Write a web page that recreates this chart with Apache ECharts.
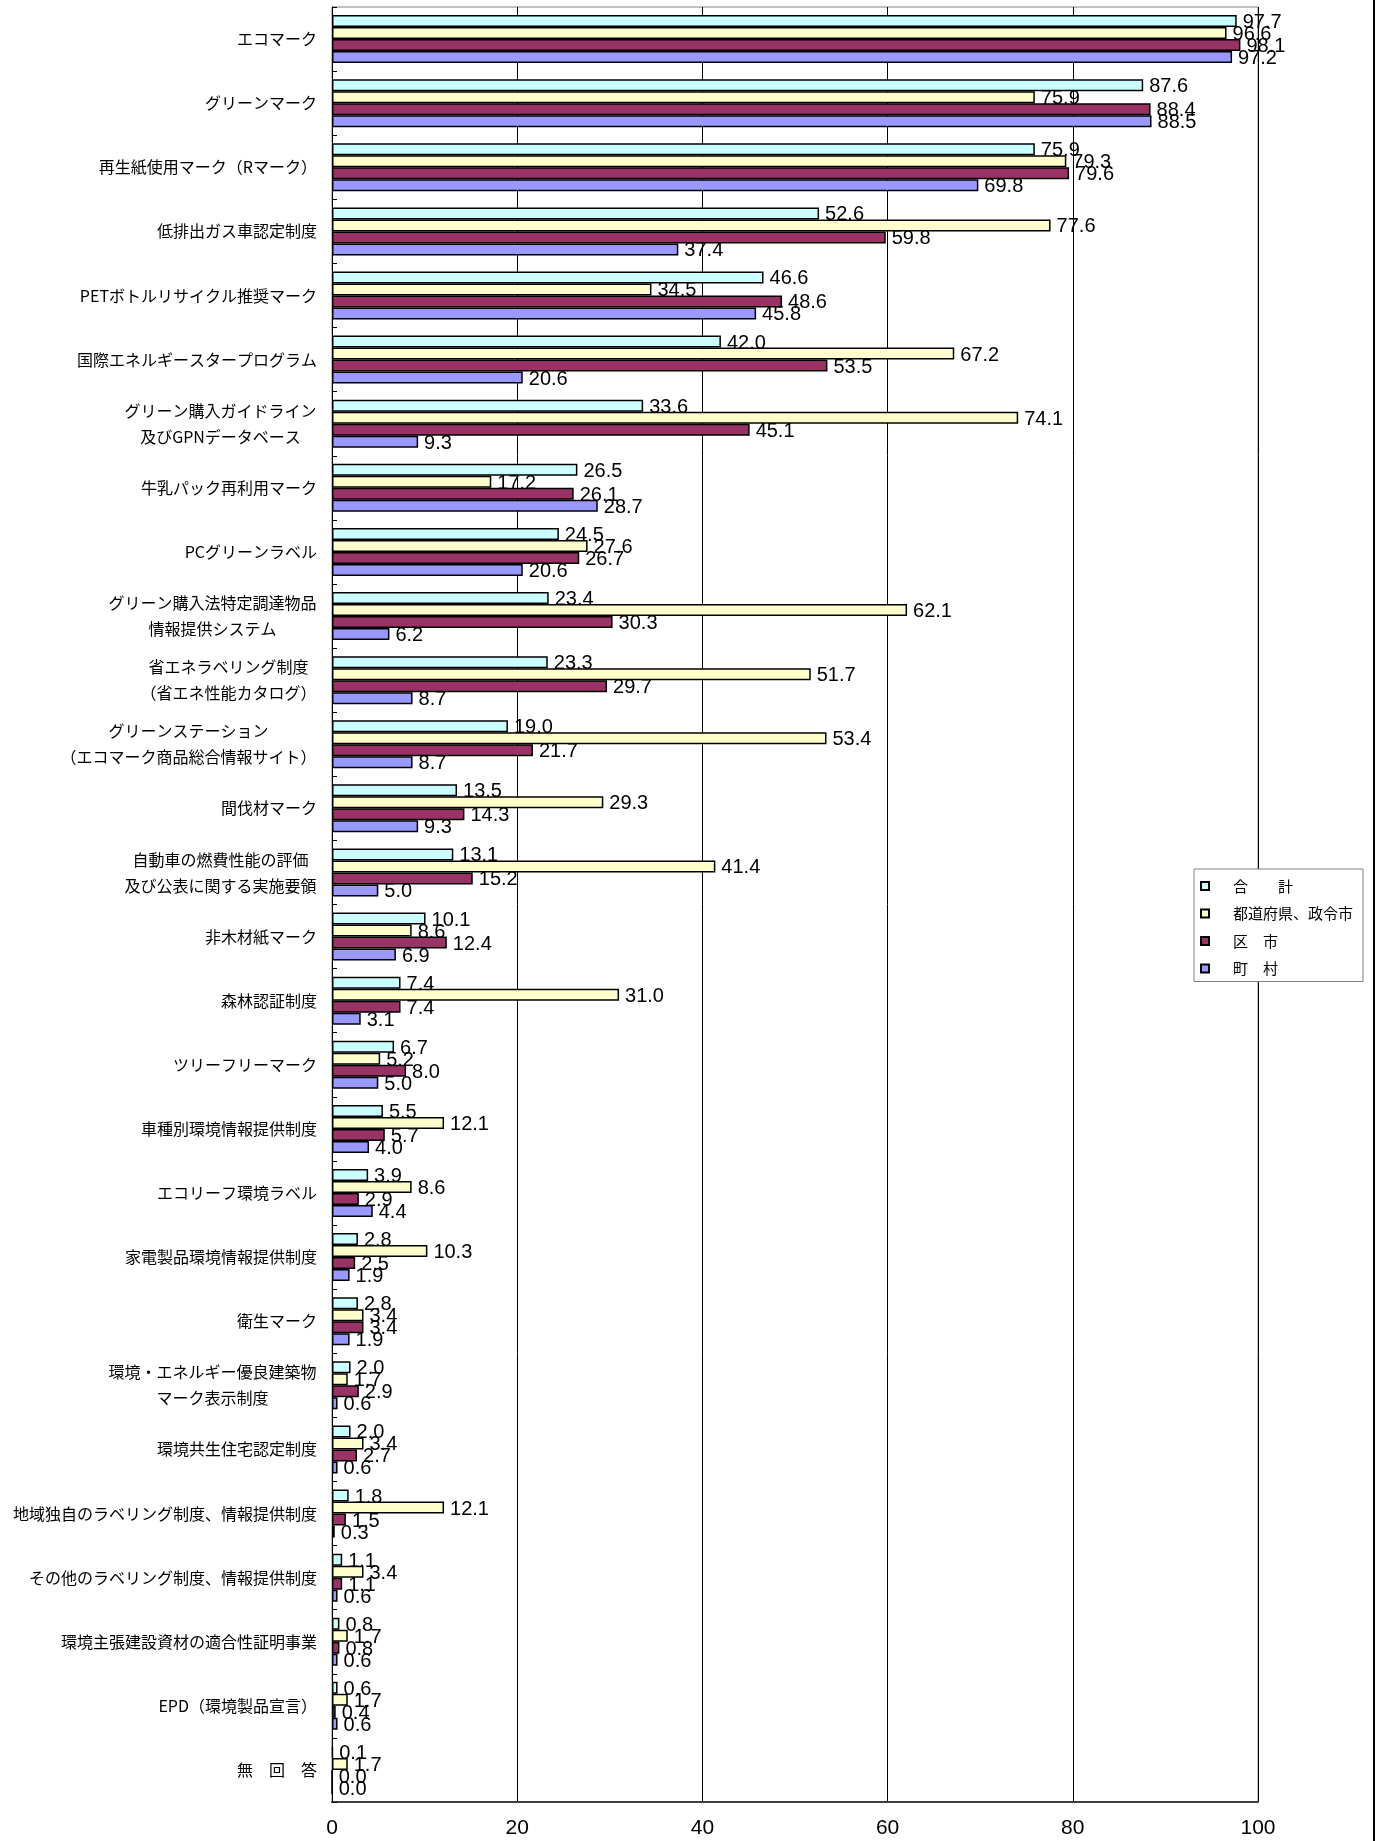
<!DOCTYPE html>
<html>
<head>
<meta charset="utf-8">
<script src="https://cdn.jsdelivr.net/npm/echarts@6/dist/echarts.min.js"></script>
<style>
html,body{margin:0;padding:0;background:#fff;}
#chart{width:1379px;height:1841px;}
</style>
</head>
<body>
<div id="chart"></div>
<script>
const categories = [
  'エコマーク',
  'グリーンマーク',
  '再生紙使用マーク（Rマーク）',
  '低排出ガス車認定制度',
  'PETボトルリサイクル推奨マーク',
  '国際エネルギースタープログラム',
  'グリーン購入ガイドライン\n及びGPNデータベース',
  '牛乳パック再利用マーク',
  'PCグリーンラベル',
  'グリーン購入法特定調達物品\n情報提供システム',
  '省エネラベリング制度\n（省エネ性能カタログ）',
  'グリーンステーション\n（エコマーク商品総合情報サイト）',
  '間伐材マーク',
  '自動車の燃費性能の評価\n及び公表に関する実施要領',
  '非木材紙マーク',
  '森林認証制度',
  'ツリーフリーマーク',
  '車種別環境情報提供制度',
  'エコリーフ環境ラベル',
  '家電製品環境情報提供制度',
  '衛生マーク',
  '環境・エネルギー優良建築物\nマーク表示制度',
  '環境共生住宅認定制度',
  '地域独自のラベリング制度、情報提供制度',
  'その他のラベリング制度、情報提供制度',
  '環境主張建設資材の適合性証明事業',
  'EPD（環境製品宣言）',
  '無　回　答'
];

const seriesNames = ['合　　計', '都道府県、政令市', '区　市', '町　村'];

const totalValues = [97.7, 87.6, 75.9, 52.6, 46.6, 42.0, 33.6, 26.5, 24.5, 23.4, 23.3, 19.0, 13.5, 13.1, 10.1, 7.4, 6.7, 5.5, 3.9, 2.8, 2.8, 2.0, 2.0, 1.8, 1.1, 0.8, 0.6, 0.1];
const prefValues  = [96.6, 75.9, 79.3, 77.6, 34.5, 67.2, 74.1, 17.2, 27.6, 62.1, 51.7, 53.4, 29.3, 41.4, 8.6, 31.0, 5.2, 12.1, 8.6, 10.3, 3.4, 1.7, 3.4, 12.1, 3.4, 1.7, 1.7, 1.7];
const cityValues  = [98.1, 88.4, 79.6, 59.8, 48.6, 53.5, 45.1, 26.1, 26.7, 30.3, 29.7, 21.7, 14.3, 15.2, 12.4, 7.4, 8.0, 5.7, 2.9, 2.5, 3.4, 2.9, 2.7, 1.5, 1.1, 0.8, 0.4, 0.0];
const townValues  = [97.2, 88.5, 69.8, 37.4, 45.8, 20.6, 9.3, 28.7, 20.6, 6.2, 8.7, 8.7, 9.3, 5.0, 6.9, 3.1, 5.0, 4.0, 4.4, 1.9, 1.9, 0.6, 0.6, 0.3, 0.6, 0.6, 0.6, 0.0];

const xTicks = [0, 20, 40, 60, 80, 100];

const seriesValues = [totalValues, prefValues, cityValues, townValues];
const seriesColors = ['#CCFFFF', '#FFFFCC', '#993366', '#9999FF'];

const CJK = '"Noto Sans CJK JP", "Noto Sans", sans-serif';
const NUM = '"Liberation Sans", Arial, sans-serif';

// measure multi-line labels so that lines are centered within a right-anchored block
const cv = document.createElement('canvas').getContext('2d');
cv.font = '16px ' + CJK;
const rich = {};
categories.forEach(function (c, i) {
  if (c.indexOf('\n') >= 0) {
    const w = Math.max.apply(null, c.split('\n').map(function (l) { return cv.measureText(l).width; }));
    rich['c' + i] = { width: Math.ceil(w), align: 'center', fontSize: 16, fontFamily: CJK, lineHeight: 26, color: '#000' };
  }
});

const chart = echarts.init(document.getElementById('chart'), null, { renderer: 'canvas' });

const option = {
  animation: false,
  backgroundColor: '#fff',
  grid: {
    left: 332, right: 121, top: 7, bottom: 39,
    show: true, borderColor: '#808080', borderWidth: 1, backgroundColor: 'transparent'
  },
  legend: {
    orient: 'vertical',
    left: 1194, top: 869,
    data: seriesNames,
    backgroundColor: '#fff',
    borderColor: '#808080', borderWidth: 1,
    padding: [9, 10, 5, 6],
    itemWidth: 8, itemHeight: 8, itemGap: 11.5,
    icon: 'rect',
    textStyle: { fontSize: 15, fontFamily: CJK, color: '#000', lineHeight: 16, padding: [0, 0, 0, 19] }
  },
  xAxis: {
    type: 'value',
    min: xTicks[0], max: xTicks[xTicks.length - 1], interval: xTicks[1] - xTicks[0],
    axisLine: { show: true, lineStyle: { color: '#404040', width: 2 } },
    axisTick: { show: false },
    splitLine: { show: true, lineStyle: { color: '#000', width: 1 } },
    axisLabel: { fontSize: 21, fontFamily: NUM, color: '#000', margin: 16 }
  },
  yAxis: {
    type: 'category',
    inverse: true,
    data: categories,
    axisLine: { show: true, lineStyle: { color: '#000', width: 1 } },
    axisTick: { show: true, inside: true, length: 5, lineStyle: { color: '#000' } },
    axisLabel: {
      fontSize: 16, fontFamily: CJK, color: '#000', margin: 15, lineHeight: 26,
      formatter: function (v, i) {
        if (v.indexOf('\n') >= 0) {
          return v.split('\n').map(function (l) { return '{c' + i + '|' + l + '}'; }).join('\n');
        }
        return v;
      },
      rich: rich
    }
  },
  series: seriesNames.map(function (name, s) {
    return {
      name: name,
      type: 'bar',
      z: 2 + s,
      data: seriesValues[s],
      barWidth: 12,
      barGap: '0%',
      itemStyle: { color: seriesColors[s], borderColor: '#000', borderWidth: 1.5 },
      label: {
        show: true, position: 'right', distance: 6, offset: [0, 1.5],
        fontSize: 20, fontFamily: NUM, color: '#000',
        formatter: function (p) { return Number(p.value).toFixed(1); }
      }
    };
  }),
  graphic: [{
    type: 'line',
    shape: { x1: 1374, y1: 0, x2: 1374, y2: 1841 },
    style: { stroke: '#000', lineWidth: 2 }
  }]
};

chart.setOption(option);
</script>
</body>
</html>
